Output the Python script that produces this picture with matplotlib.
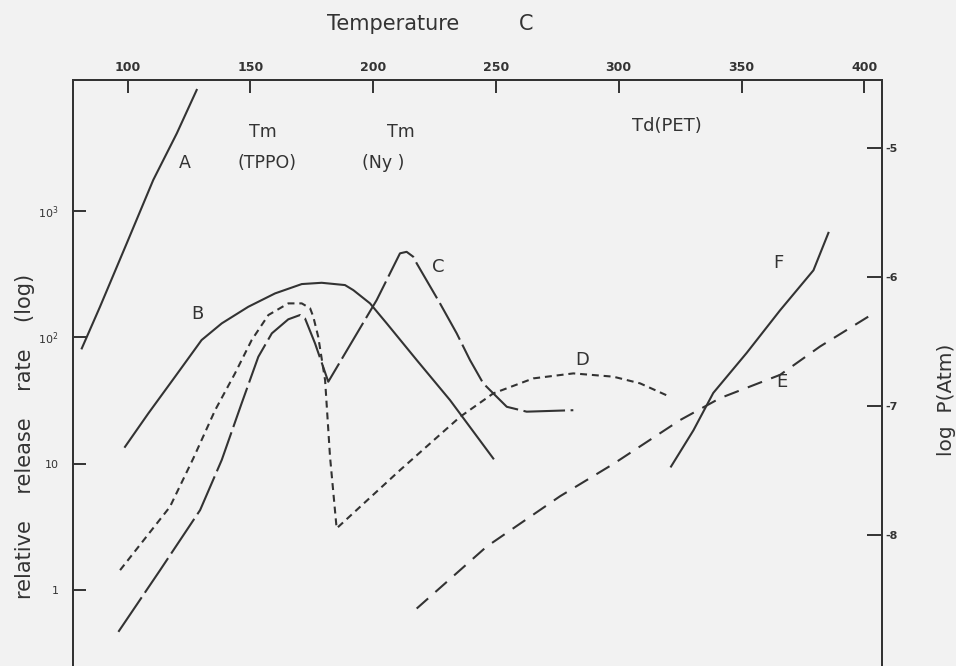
import matplotlib
matplotlib.use("Agg")
import matplotlib.pyplot as plt

plt.rcParams['lines.scale_dashes'] = False
plt.rcParams['font.family'] = ['DejaVu Sans']

# ---- data (temperature in C, relative release rate) ----
A_T = [81.3, 88.7, 99.6, 110.4, 120.0, 128.1]
A_v = [81.7, 174, 553, 1754, 4100, 9040]

B_T = [98.9, 108.4, 119.3, 130.1, 138.3, 149.1, 160.0, 170.9, 179.0, 188.5, 191.9, 198.7,
       205.5, 217.7, 231.3, 248.9]
B_v = [13.6, 25.0, 48.8, 95.1, 128.8, 174.2, 222.3, 263.6, 269.8, 258.8, 236.0, 185.4,
       128.8, 66.1, 31.8, 11.0]

C_T = [96.2, 113.2, 129.5, 138.3, 146.4, 153.2, 158.7, 165.4, 170.2, 172.2, 176.3, 181.7,
       201.4, 210.9, 213.6, 216.3, 217.7, 227.2, 234.0, 239.4, 244.8, 248.9, 254.4, 262.5, 281.5]
C_v = [0.468, 1.44, 4.30, 10.7, 30.0, 70.1, 107.4, 138.7, 150.0, 141.3, 89.5, 44.5,
       196.8, 461.3, 474.2, 433.5, 384.6, 185.4, 107.4, 66.1, 43.2, 36.0, 28.2, 25.8, 26.5]

D_T = [96.9, 117.2, 126.7, 135.6, 143.7, 150.5, 157.3, 165.4, 170.9, 174.3, 175.6, 177.6,
       180.4, 182.4, 185.1, 210.9, 235.4, 248.9, 265.2, 281.5, 297.8, 308.7, 320.9]
D_v = [1.44, 4.56, 11.0, 26.5, 51.8, 95.1, 150.0, 185.4, 185.4, 169.4, 145.2, 100.9,
       45.8, 11.4, 3.08, 8.89, 23.5, 36.0, 47.3, 51.8, 48.8, 43.2, 33.8]

# vapour pressure curves, log P (atm), right axis
E_T = [217.7, 246.2, 276.1, 297.8, 325.0, 341.3, 365.7, 382.0, 402.4]
E_logP = [-8.57, -8.09, -7.70, -7.45, -7.11, -6.94, -6.76, -6.54, -6.30]

F_T = [321.3, 330.4, 338.5, 352.1, 365.7, 379.3, 385.4]
F_logP = [-7.47, -7.19, -6.90, -6.59, -6.26, -5.95, -5.66]

temp_ticks = [100, 150, 200, 250, 300, 350, 400]
rate_ticks = [1, 10, 100, 1000]
rate_labels = ['1', '10', r'10$^2$', r'10$^3$']
logP_ticks = [-5, -6, -7, -8]
logP_labels = ['-5', '-6', '-7', '-8']

ink = '#333333'
bg = '#f2f2f2'

W, H = 956, 666
fig = plt.figure(figsize=(W / 100, H / 100), dpi=100, facecolor=bg)
x0, x1 = 72.7, 881.7
ytop = 80.0
ax = fig.add_axes([x0 / W, 0.0, (x1 - x0) / W, 1 - ytop / H])
ax.set_facecolor(bg)

ax.set_xlim(77.6, 407.1)
ax.set_yscale('log')
ax.set_ylim(10 ** -0.60, 10 ** 4.035)

lw = 1.5
common = dict(color=ink, lw=lw, solid_joinstyle='round', dash_joinstyle='round')
ax.plot(A_T, A_v, **common)
ax.plot(B_T, B_v, **common)
ax.plot(C_T, C_v, linestyle=(0, (30, 4)), **common)
ax.plot(D_T, D_v, linestyle=(0, (5, 3.5)), **common)

ax2 = ax.twinx()
ax2.set_ylim(-9.015, -4.476)
ax2.plot(E_T, E_logP, linestyle=(0, (11, 7)), **common)
ax2.plot(F_T, F_logP, **common)

# axes styling
for a in (ax, ax2):
    a.spines['bottom'].set_visible(False)
    for s in ('left', 'right', 'top'):
        a.spines[s].set_color(ink)
        a.spines[s].set_linewidth(1.4)

ax.xaxis.set_ticks_position('top')
ax.set_xticks(temp_ticks)
ax.set_xticklabels([str(t) for t in temp_ticks], fontsize=9, fontweight='bold', color=ink)
ax.tick_params(axis='x', direction='in', length=9, width=1.4, color=ink, pad=4)

ax.set_yticks(rate_ticks)
ax.set_yticklabels(rate_labels, fontsize=8, color=ink)
ax.yaxis.set_minor_locator(matplotlib.ticker.NullLocator())
ax.tick_params(axis='y', direction='in', length=9, width=1.4, color=ink, pad=10)

ax2.set_yticks(logP_ticks)
ax2.set_yticklabels(logP_labels, fontsize=8, fontweight='bold', color=ink)
ax2.tick_params(axis='y', direction='in', length=11, width=1.4, color=ink, pad=3)


def ftext(px, py, s, **kw):
    fig.text(px / W, 1 - py / H, s, ha='center', va='center', color=ink, **kw)


ftext(393, 24, 'Temperature', fontsize=15)
ftext(526, 24, 'C', fontsize=15)
ftext(263, 132, 'Tm', fontsize=12.5)
ftext(401, 132, 'Tm', fontsize=12.5)
ftext(185, 163, 'A', fontsize=12.5)
ftext(267, 163, '(TPPO)', fontsize=12.5)
ftext(383, 163, '(Ny )', fontsize=12.5)
ftext(667, 126, 'Td(PET)', fontsize=13)
ftext(197, 314, 'B', fontsize=13)
ftext(438, 267, 'C', fontsize=13)
ftext(582, 360, 'D', fontsize=13)
ftext(782, 382, 'E', fontsize=13)
ftext(778, 263, 'F', fontsize=13)
ftext(25, 436, 'relative    release    rate    (log)', fontsize=15, rotation=90)
ftext(946, 400, 'log  P(Atm)', fontsize=14.5, rotation=90)

fig.savefig('out.png', dpi=100, facecolor=bg)
